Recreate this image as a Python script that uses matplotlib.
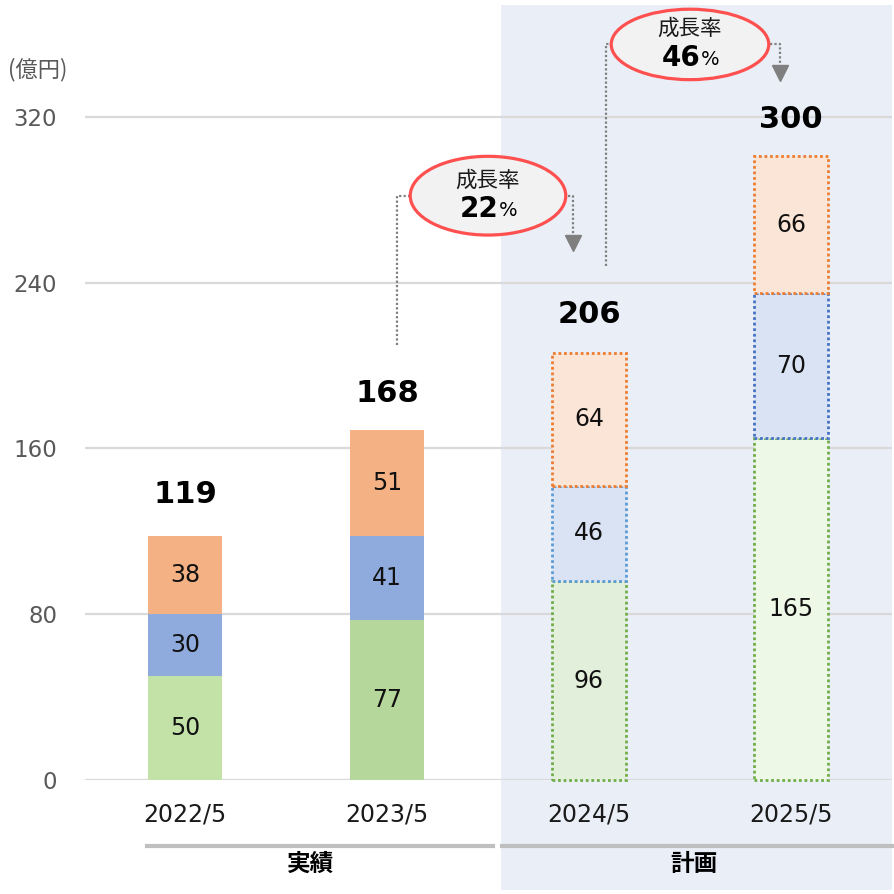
import matplotlib
matplotlib.use('Agg')
import matplotlib.pyplot as plt
from matplotlib.patches import Ellipse, Rectangle
from matplotlib.lines import Line2D
from matplotlib import font_manager

# ---------------- data ----------------
categories = ['2022/5', '2023/5', '2024/5', '2025/5']
green_vals = [50, 77, 96, 165]
blue_vals = [30, 41, 46, 70]
orange_vals = [38, 51, 64, 66]
totals = [119, 168, 206, 300]
growth_rates = [22, 46]          # 2023->2024, 2024->2025
yticks = [0, 80, 160, 240, 320]
group_labels = ['実績', '計画']
unit_label = '(億円)'
growth_title = '成長率'

# ---------------- styles ----------------
green_fill = ['#C3E2A8', '#B6D79C', '#E2EFDA', '#EEF8E6']
blue_fill = ['#8FAADC', '#8FAADC', '#DAE3F3', '#DAE3F3']
orange_fill = ['#F4B183', '#F4B183', '#FBE5D6', '#FBE5D6']
green_edge = [None, None, '#70AD47', '#70AD47']
blue_edge = [None, None, '#5B9BD5', '#4472C4']
orange_edge = [None, None, '#ED7D31', '#ED7D31']

avail = {f.name for f in font_manager.fontManager.ttflist}
CJK = 'Noto Sans CJK JP'
tick_family = 'Liberation Sans Narrow' if 'Liberation Sans Narrow' in avail else 'DejaVu Sans'

W, H = 895, 894
fig = plt.figure(figsize=(W / 100, H / 100), dpi=100)

def fx(px):
    return px / W

def fy(py):
    return 1 - py / H

# shaded plan region (figure level, behind axes)
fig.add_artist(Rectangle((fx(501), fy(890)), fx(892) - fx(501), fy(5) - fy(890),
                         transform=fig.transFigure, facecolor='#EAEEF7',
                         edgecolor='none', zorder=-5))

ax = fig.add_axes([fx(85), fy(780), fx(892) - fx(85), fy(3) - fy(780)])
ax.set_facecolor('none')
ax.set_xlim(-0.495, 3.5)
ax.set_ylim(0, 375)
for s in ax.spines.values():
    s.set_visible(False)

# grid lines
for t in yticks:
    ax.axhline(t, color='#D9D9D9', lw=1.6, zorder=1)
ax.set_yticks(yticks)
ax.set_yticklabels([str(t) for t in yticks], fontsize=16.5, color='#595959',
                   family='DejaVu Sans')
ax.tick_params(axis='y', length=0, pad=20)
x = list(range(len(categories)))
ax.set_xticks(x)
ax.set_xticklabels(categories, fontsize=17, color='#1a1a1a', family=tick_family)
ax.tick_params(axis='x', length=0, pad=16)

bw = 0.37
dot = (0, (1, 1))
segments = [(green_vals, green_fill, green_edge),
            (blue_vals, blue_fill, blue_edge),
            (orange_vals, orange_fill, orange_edge)]
bottoms = [0] * len(categories)
for vals, fills, edges in segments:
    for i, v in enumerate(vals):
        if edges[i] is None:
            ax.bar(x[i], v, bw, bottom=bottoms[i], color=fills[i], edgecolor='none',
                   zorder=2)
        else:
            ax.bar(x[i], v, bw, bottom=bottoms[i], color=fills[i], edgecolor=edges[i],
                   linewidth=2.0, linestyle=dot, zorder=2, clip_on=False)
        ax.text(x[i], bottoms[i] + v / 2, str(v), ha='center', va='center',
                fontsize=17, color='#111111', zorder=5)
        bottoms[i] += v

for i, t in enumerate(totals):
    ax.annotate(str(t), (x[i], t), xytext=(0, 28), textcoords='offset points',
                ha='center', va='center', fontsize=22, fontweight='bold',
                color='#000000', zorder=5)

# growth-rate call-outs
ell_y = [282, 355]
ell_w = [0.77, 0.78]
ell_h = [38, 34]
arrow_y = [259, 341]
left_off = [0.05, 0.085]
right_off = [0.08, 0.055]
gray = '#7F7F7F'
for k, g in enumerate(growth_rates):
    a, b = k + 1, k + 2
    cx = (x[a] + x[b]) / 2
    cy = ell_y[k]
    lx = x[a] + left_off[k]
    rx = x[b] - right_off[k]
    ax.plot([lx, lx, cx], [totals[a] + 42, cy, cy], color=gray, lw=1.6,
            linestyle=dot, zorder=6, clip_on=False)
    ax.plot([cx, rx, rx], [cy, cy, arrow_y[k] + 3], color=gray, lw=1.6,
            linestyle=dot, zorder=6, clip_on=False)
    ax.plot([rx], [arrow_y[k]], marker='v', markersize=11, color=gray,
            zorder=6, clip_on=False, linestyle='none')
    ax.add_patch(Ellipse((cx, cy), ell_w[k], ell_h[k], facecolor='#F2F2F2',
                         edgecolor='#FF5050', lw=2.3, zorder=7, clip_on=False))
    ax.annotate(growth_title, (cx, cy), xytext=(0, 11), textcoords='offset points',
                ha='center', va='center', fontsize=15.5, family=CJK,
                color='#1a1a1a', zorder=8, annotation_clip=False)
    ax.annotate(str(g), (cx, cy), xytext=(7.5, -9.5), textcoords='offset points',
                ha='right', va='center', fontsize=20, fontweight='bold',
                color='#000000', zorder=8, annotation_clip=False)
    ax.annotate('%', (cx, cy), xytext=(8, -10.5), textcoords='offset points',
                ha='left', va='center', fontsize=14, color='#000000', zorder=8,
                annotation_clip=False)

# unit label
fig.text(fx(38), fy(70), unit_label, ha='center', va='center', fontsize=16,
         color='#595959', family=CJK)

# group brackets
fig.add_artist(Line2D([fx(147), fx(493)], [fy(846), fy(846)], color='#BFBFBF',
                      lw=3, transform=fig.transFigure))
fig.add_artist(Line2D([fx(502), fx(892)], [fy(846), fy(846)], color='#BFBFBF',
                      lw=3, transform=fig.transFigure))
fig.text(fx(311), fy(864), group_labels[0], ha='center', va='center', fontsize=17,
         fontweight='bold', family=CJK, color='#000000')
fig.text(fx(694), fy(864), group_labels[1], ha='center', va='center', fontsize=17,
         fontweight='bold', family=CJK, color='#000000')

fig.savefig('out.png', dpi=100, facecolor='white')
